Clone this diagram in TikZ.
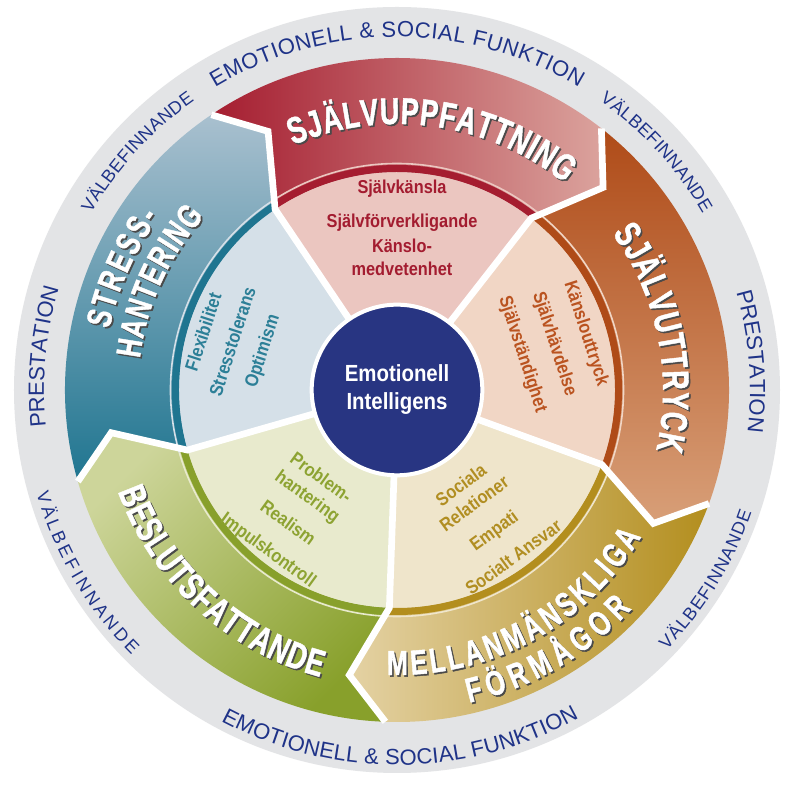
\documentclass[tikz,border=0pt]{standalone}
\usepackage{fontspec}
\setmainfont{Liberation Sans}
\newfontfamily\narrowfam[FakeStretch=0.72, FakeBold=1.2]{Liberation Sans}
\newfontfamily\itemfam[FakeStretch=0.875]{Liberation Sans}
\usetikzlibrary{decorations.text}

\definecolor{ringG}{HTML}{E3E4E6}
\definecolor{ringT}{HTML}{1F3388}
\definecolor{navy}{HTML}{283582}
\definecolor{shadowG}{HTML}{4A4A4A}
\definecolor{redD}{HTML}{A51D30}
\definecolor{redL}{HTML}{DBA39D}
\definecolor{redS}{HTML}{EBC6C0}
\definecolor{redT}{HTML}{A31C30}
\definecolor{orgD}{HTML}{AF4B18}
\definecolor{orgL}{HTML}{D89F78}
\definecolor{orgS}{HTML}{F1D6C5}
\definecolor{orgT}{HTML}{BA5320}
\definecolor{golD}{HTML}{B38E1E}
\definecolor{golL}{HTML}{E4D2A4}
\definecolor{golS}{HTML}{EFE5CB}
\definecolor{golT}{HTML}{B18E22}
\definecolor{grnD}{HTML}{88A02B}
\definecolor{grnL}{HTML}{CDD59A}
\definecolor{grnS}{HTML}{E8EACD}
\definecolor{grnT}{HTML}{8DA332}
\definecolor{teaD}{HTML}{1F7590}
\definecolor{teaL}{HTML}{A9C0CF}
\definecolor{teaS}{HTML}{D5E0E8}
\definecolor{teaT}{HTML}{2C7F97}

\newcommand\bigtitle{\narrowfam\bfseries\fontsize{28}{30}\selectfont}
\newcommand\smalltitle{\narrowfam\bfseries\fontsize{26}{28}\selectfont}
\newcommand\ringfont{\fontsize{16.5}{18}\selectfont}
\newcommand\ringsmall{\fontsize{13.5}{16}\selectfont}
\newcommand\itemfont{\itemfam\bfseries\fontsize{14}{17}\selectfont}
\newcommand\centerfont{\itemfam\bfseries\fontsize{17.5}{21}\selectfont}

\newcommand\bandshape[1]{({#1+72}:332) arc[start angle={#1+72}, end angle={#1}, radius=332] -- ({#1-7.5}:289) -- ({#1}:218) arc[start angle={#1}, end angle={#1+72}, radius=218] -- ({#1+64.5}:289) -- cycle}
\newcommand\arctext[3]{\path[decorate, decoration={text along path, text align={fit to path}, text={|#1|#2}}] #3;}
\newcommand\titlearc[3]{%
  \begin{scope}[shift={(1.6,-1.6)}]\arctext{#1\color{shadowG}}{#2}{#3}\end{scope}%
  \arctext{#1\color{white}}{#2}{#3}}

\begin{document}
\begin{tikzpicture}[x=0.75pt, y=0.75pt,
  item/.style={font=\itemfont, align=center, text=#1, inner sep=0pt},
  sep/.style={white, line width=5pt, line join=miter}]
\useasboundingbox[fill=white] (-397,-397) rectangle (403,390);
\fill[ringG] (0,0) circle[radius=383];

\shade[left color=redD, middle color=redD, right color=redL] \bandshape{52};
\shade[top color=orgD, middle color=orgD, bottom color=orgL] \bandshape{-20};
\shade[left color=golL, middle color=golD, right color=golD] \bandshape{-92};
\shade[top color=grnL, bottom color=grnD, shading angle=45] \bandshape{196};
\shade[top color=teaL, middle color=teaD, bottom color=teaD] \bandshape{124};

\foreach \b/\dk/\lt in {52/redD/redS, -20/orgD/orgS, -92/golD/golS, 196/grnD/grnS, 124/teaD/teaS}{
  \fill[\lt] (0,0) -- (\b:218) arc[start angle=\b, end angle={\b+72}, radius=218] -- cycle;
  \draw[\dk, line width=5.25pt] (\b:221.5) arc[start angle=\b, end angle={\b+72}, radius=221.5];
  \draw[\lt, line width=1.2pt] (\b:226.5) arc[start angle=\b, end angle={\b+72}, radius=226.5];
}
\foreach \s in {52,124,196,268,340}
  \draw[sep] (0,0) -- (\s:218) -- ({\s-7.5}:289) -- (\s:332);

\node (ei) [circle, fill=navy, draw=white, line width=3pt, minimum size=128pt, inner sep=0pt,
  align=center, text=white, font=\centerfont] at (0,0) {Emotionell\\Intelligens};

\node (selfperc) [item=redT] at (5,162) {Självkänsla\\[8.5pt]Självförverkligande\\[1.5pt]Känslo-\\medvetenhet};
\node (selfexpr) [item=orgT, rotate=-72] at (157,46) {Känslouttryck\\[8pt]Självhävdelse\\[8pt]Självständighet};
\node (interp) [item=golT, rotate=36] at (90,-131) {Sociala\\Relationer\\[8pt]Empati\\[8pt]Socialt Ansvar};
\node (decis) [item=grnT, rotate=-36] at (-103,-125) {Problem-\\hantering\\[8pt]Realism\\[8pt]Impulskontroll};
\node (stress) [item=teaT, rotate=72] at (-163,48) {Flexibilitet\\[6pt]Stresstolerans\\[6pt]Optimism};

\titlearc{\bigtitle}{SJÄLVUPPFATTNING}{(113:266) arc[start angle=113, end angle=51, radius=266]}
\titlearc{\bigtitle}{SJÄLVUTTRYCK}{(36:266) arc[start angle=36, end angle=-13, radius=266]}
\titlearc{\smalltitle}{MELLANMÄNSKLIGA}{(268:285) arc[start angle=268, end angle=329, radius=285]}
\titlearc{\smalltitle}{FÖRMÅGOR}{(283:321) arc[start angle=283, end angle=317, radius=321]}
\titlearc{\bigtitle}{BESLUTSFATTANDE}{(200:297) arc[start angle=200, end angle=255, radius=297]}
\titlearc{\smalltitle}{STRESS-}{(168:294) arc[start angle=168, end angle=144, radius=294]}
\titlearc{\smalltitle}{HANTERING}{(173:259) arc[start angle=173, end angle=138, radius=259]}

\arctext{\ringfont\color{ringT}}{EMOTIONELL {\&} SOCIAL FUNKTION}{(121:353) arc[start angle=121, end angle=59, radius=353]}
\arctext{\ringfont\color{ringT}}{EMOTIONELL {\&} SOCIAL FUNKTION}{(242:375) arc[start angle=242, end angle=299, radius=375]}
\arctext{\ringfont\color{ringT}}{PRESTATION}{(186:353) arc[start angle=186, end angle=164, radius=353]}
\arctext{\ringfont\color{ringT}}{PRESTATION}{(16:353) arc[start angle=16, end angle=-6, radius=353]}
\arctext{\ringsmall\color{ringT}}{VÄLBEFINNANDE}{(150:353) arc[start angle=150, end angle=125, radius=353]}
\arctext{\ringsmall\color{ringT}}{VÄLBEFINNANDE}{(55:353) arc[start angle=55, end angle=30, radius=353]}
\arctext{\ringsmall\color{ringT}}{VÄLBEFINNANDE}{(196:375) arc[start angle=196, end angle=225, radius=375]}
\arctext{\ringsmall\color{ringT}}{VÄLBEFINNANDE}{(316:375) arc[start angle=316, end angle=341, radius=375]}
\end{tikzpicture}
\end{document}
